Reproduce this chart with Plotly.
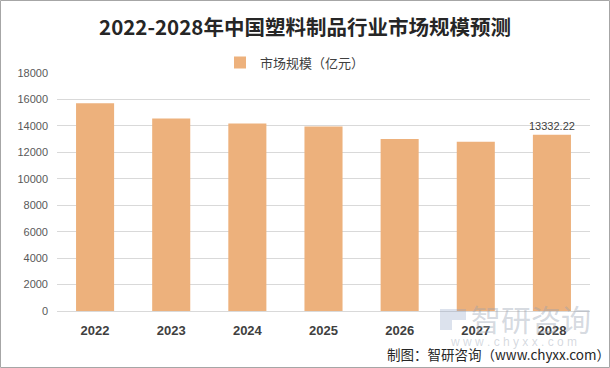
import plotly.graph_objects as go

years = ["2022", "2023", "2024", "2025", "2026", "2027", "2028"]
market_size = [15710, 14560, 14180, 13960, 13010, 12800, 13332.22]
label_text = ["", "", "", "", "", "", "13332.22"]
y_ticks = [0, 2000, 4000, 6000, 8000, 10000, 12000, 14000, 16000, 18000]

W, H = 610, 368
ml, mr, mt, mb = 57, 20, 73, 57
pw, ph = W - ml - mr, H - mt - mb


def px(x):
    return (x - ml) / pw


def py(y):
    return (H - y - mb) / ph


fig = go.Figure()
fig.add_trace(go.Bar(
    x=years, y=market_size, name="市场规模（亿元）",
    marker=dict(color="#EDB17C", line=dict(width=0)),
    text=label_text, textposition="outside", cliponaxis=False, constraintext="none",
    textfont=dict(family="Liberation Sans, Arial", size=11, color="#404040"),
))

fig.update_layout(
    width=W, height=H,
    margin=dict(l=ml, r=mr, t=mt, b=mb, pad=0, autoexpand=False),
    paper_bgcolor="white", plot_bgcolor="white",
    bargap=0.5,
    showlegend=True,
    legend=dict(orientation="h", x=px(295), xanchor="center", y=py(62.5), yanchor="middle",
                font=dict(family="Noto Sans CJK SC", size=13, color="#404040"),
                itemwidth=30, bgcolor="rgba(0,0,0,0)"),
    title=dict(text="<b>2022-2028年中国塑料制品行业市场规模预测</b>",
               x=0.5, xanchor="center", y=1 - 28 / H, yanchor="middle",
               font=dict(family="Noto Sans CJK SC", size=20.5, color="#262626")),
    xaxis=dict(showgrid=False, showline=True, linecolor="#D9D9D9", linewidth=1,
               ticks="", tickfont=dict(family="Liberation Sans, Arial", size=13, color="#404040", weight="bold"),
               ticklabelstandoff=7),
    yaxis=dict(range=[0, 18000], tickvals=y_ticks, ticktext=[str(v) for v in y_ticks],
               showgrid=True, gridcolor="#D9D9D9",
               gridwidth=1, zeroline=False, showline=False, ticks="",
               tickfont=dict(family="Liberation Sans, Arial", size=11, color="#595959"),
               ticklabelstandoff=8),
)

# outer border
fig.add_shape(type="rect", xref="paper", yref="paper",
              x0=px(0.5), x1=px(W - 0.5), y0=py(H - 0.5), y1=py(0.5),
              line=dict(color="#A6A6A6", width=1), layer="above")

# watermark
wm = "rgba(150,160,175,0.4)"
fig.add_annotation(xref="paper", yref="paper", x=px(531), y=py(318), xanchor="center", yanchor="middle",
                   text="智研咨询", showarrow=False,
                   font=dict(family="Noto Sans CJK SC", size=30, color=wm))
fig.add_annotation(xref="paper", yref="paper", x=px(513), y=py(342), xanchor="center", yanchor="middle",
                   text="w w w . c h y x x . c o m", showarrow=False,
                   font=dict(family="Liberation Sans, Arial", size=12, color=wm))
fig.add_shape(type="path", xref="paper", yref="paper",
              path=f"M {px(440)},{py(309)} L {px(466)},{py(309)} L {px(466)},{py(320)} L {px(452)},{py(320)} L {px(452)},{py(330)} L {px(440)},{py(330)} Z",
              fillcolor="rgba(140,160,195,0.3)", line=dict(width=0), layer="above")

# source
fig.add_annotation(xref="paper", yref="paper", x=px(612), y=py(354),
                   xanchor="right", yanchor="middle",
                   text="制图：智研咨询（www.chyxx.com）", showarrow=False,
                   font=dict(family="Noto Sans CJK SC", size=13.5, color="#262626"))

fig.write_html("out.html", config={"displayModeBar": False},
               post_script="document.body.style.margin='0';document.body.style.overflow='hidden';")
